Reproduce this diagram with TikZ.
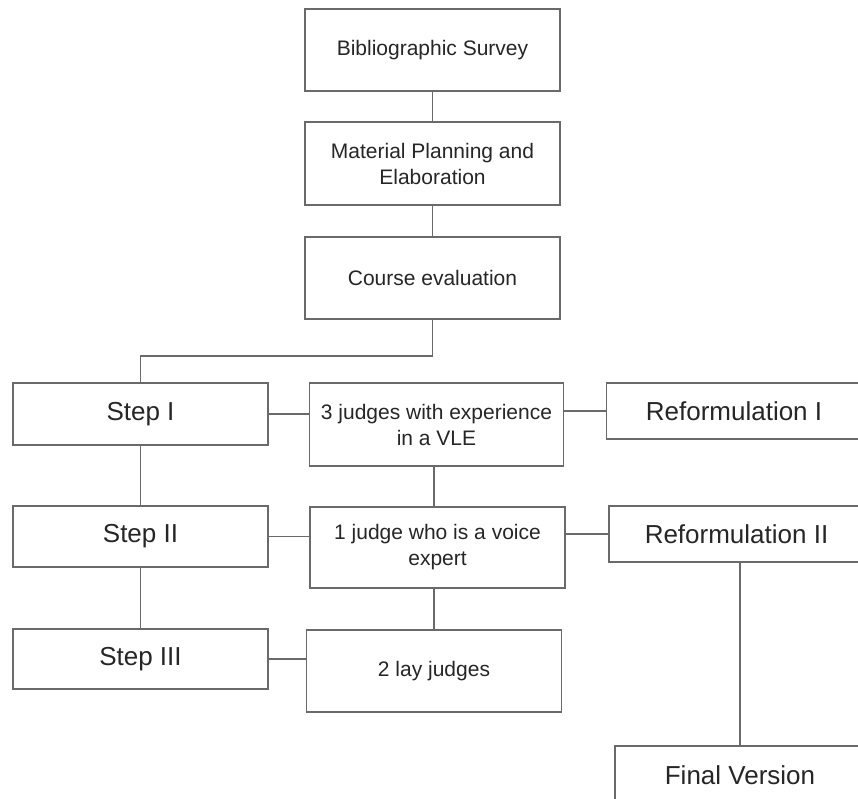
\documentclass[tikz,border=0pt]{standalone}
\usepackage{fontspec}
\setmainfont{Liberation Sans}
\definecolor{lin}{HTML}{6A6A6A}
\definecolor{txt}{HTML}{262626}
\begin{document}
\begin{tikzpicture}[x=1pt,y=-1pt,
  box/.style={draw=lin,line width=1.8pt,fill=white,text=txt,align=center,inner sep=0pt,
    minimum width=255pt,font=\fontsize{21}{26}\selectfont},
  bigbox/.style={box,font=\fontsize{26}{30}\selectfont},
  conn/.style={draw=lin,line width=1.5pt}]
\useasboundingbox (0,0) rectangle (858,799);
\begin{scope}
\clip (0,0) rectangle (858,799);
\node[box,minimum height=82pt] (bib) at (432.5,50) {Bibliographic Survey};
\node[box,minimum height=83pt] (mat) at (432.5,163.5) {Material Planning and\\Elaboration};
\node[box,minimum height=82pt] (course) at (432.5,278) {Course evaluation};
\node[bigbox,minimum height=62pt] (step1) at (140.5,414) {Step I};
\node[box,minimum height=83pt,minimum width=254pt] (j3) at (436.5,424.5) {3 judges with experience\\in a VLE};
\node[bigbox,minimum height=56pt] (ref1) at (734,411) {Reformulation I};
\node[bigbox,minimum height=61pt] (step2) at (140.5,536.5) {Step II};
\node[box,minimum height=81pt] (j1) at (437.5,547.5) {1 judge who is a voice\\expert};
\node[bigbox,minimum height=56pt] (ref2) at (736.5,534) {Reformulation II};
\node[bigbox,minimum height=60pt] (step3) at (140.5,659) {Step III};
\node[box,minimum height=82pt] (lay) at (434,671) {2 lay judges};
\node[bigbox,minimum height=58pt,minimum width=250pt] (final) at (740,775) {Final Version};
\draw[conn] (bib.south) -- (mat.north);
\draw[conn] (mat.south) -- (course.north);
\draw[conn] (course.south) -- ++(0,36) -| (step1.north);
\draw[conn] (step1.south) -- (step2.north);
\draw[conn] (step2.south) -- (step3.north);
\draw[conn] (step1.east) -- (j3.west |- step1.east);
\draw[conn] (j3.east |- ref1.west) -- (ref1.west);
\draw[conn] (step2.east) -- (j1.west |- step2.east);
\draw[conn] (j1.east |- ref2.west) -- (ref2.west);
\draw[conn] (step3.east) -- (lay.west |- step3.east);
\draw[conn] (j3.south -| lay.north) coordinate (a) -- (j1.north -| a);
\draw[conn] (j1.south -| lay.north) -- (lay.north);
\draw[conn] (final.north) -- (final.north |- ref2.south);
\end{scope}
\end{tikzpicture}
\end{document}
